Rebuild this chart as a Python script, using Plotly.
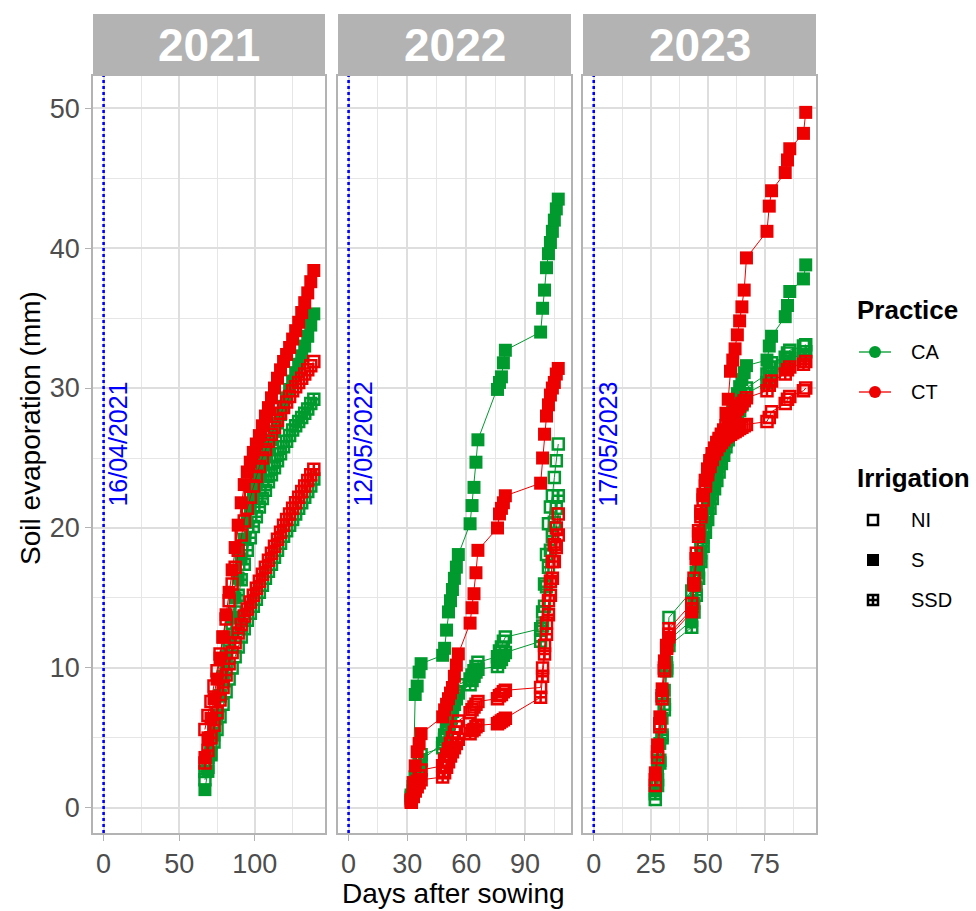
import plotly.graph_objects as go

# ---------------------------------------------------------------- data
YEARS = ["2021", "2022", "2023"]
SOWING_DATES = ["16/04/2021", "12/05/2022", "17/05/2023"]
PRACTICES = ["CA", "CT"]
IRRIGATIONS = ["NI", "S", "SSD"]

# days after sowing of each measurement
das_2021 = [67, 69, 71, 73, 75, 77, 79, 81, 83, 85, 87, 89, 91, 93, 95, 97, 99,
            101, 103, 105, 107, 109, 111, 113, 115, 117, 119, 121, 123, 125, 127,
            129, 131, 133, 135, 137, 139]
das_2022 = [32, 33, 34, 35, 36, 37, 48, 49, 50, 51, 52, 53, 54, 55, 56, 62, 63,
            64, 65, 66, 76, 77, 78, 79, 80, 98, 99, 100, 101, 102, 103, 104, 105,
            106, 107]
das_2023 = [27, 28, 29, 30, 31, 32, 33, 43, 44, 45, 46, 47, 48, 49, 50, 51, 52,
            53, 54, 55, 56, 57, 58, 59, 60, 61, 62, 63, 64, 65, 66, 67, 76, 77,
            78, 84, 85, 86, 92, 93]

# cumulative soil evaporation (mm)
ca_ni_2021 = [2.0, 2.9, 3.8, 4.7, 5.6, 6.5, 7.4, 8.3, 9.2, 10.0, 10.8, 11.5, 12.2,
              12.8, 13.4, 13.9, 14.4, 14.9, 15.4, 15.9, 16.4, 16.9, 17.4, 17.9,
              18.4, 18.9, 19.4, 19.8, 20.2, 20.6, 21.0, 21.4, 21.8, 22.2, 22.6,
              23.0, 23.5]
ca_s_2021 = [1.3, 2.6, 3.9, 5.2, 6.6, 8.0, 9.4, 10.8, 12.2, 13.6, 15.0, 16.4, 17.8,
             19.2, 20.4, 21.4, 22.3, 23.1, 23.8, 24.5, 25.1, 25.7, 26.3, 26.9,
             27.5, 28.1, 28.7, 29.3, 29.9, 30.5, 31.1, 31.7, 32.3, 33.0, 33.7,
             34.5, 35.3]
ca_ssd_2021 = [2.6, 3.6, 4.6, 5.7, 6.8, 8.0, 9.2, 10.4, 11.6, 12.8, 14.0, 15.2,
               16.3, 17.4, 18.4, 19.3, 20.1, 20.8, 21.5, 22.1, 22.7, 23.3, 23.8,
               24.3, 24.8, 25.3, 25.8, 26.2, 26.6, 27.0, 27.3, 27.6, 27.9, 28.2,
               28.5, 28.9, 29.2]
ct_ni_2021 = [5.6, 6.6, 7.6, 8.7, 9.8, 11.0, 12.2, 13.5, 14.8, 16.0, 17.2, 18.4,
              19.5, 20.5, 21.4, 22.2, 23.0, 23.7, 24.4, 25.0, 25.6, 26.2, 26.7,
              27.2, 27.7, 28.2, 28.6, 29.0, 29.4, 29.8, 30.1, 30.4, 30.7, 31.0,
              31.3, 31.6, 31.9]
ct_s_2021 = [3.6, 5.0, 6.4, 7.8, 9.2, 10.7, 12.2, 13.8, 15.4, 17.0, 18.6, 20.2,
             21.8, 23.1, 24.0, 24.7, 25.4, 26.0, 26.6, 27.3, 28.0, 28.6, 29.3,
             30.0, 30.7, 31.3, 31.9, 32.4, 32.9, 33.5, 34.1, 34.7, 35.4, 36.1,
             36.8, 37.6, 38.4]
ct_ssd_2021 = [3.2, 4.1, 5.0, 5.9, 6.8, 7.7, 8.6, 9.5, 10.3, 11.1, 11.8, 12.5, 13.1,
               13.7, 14.2, 14.7, 15.2, 15.7, 16.2, 16.7, 17.2, 17.7, 18.2, 18.7,
               19.2, 19.7, 20.2, 20.6, 21.0, 21.4, 21.8, 22.2, 22.6, 23.0, 23.4,
               23.8, 24.2]

ca_ni_2022 = [0.7, 1.2, 1.8, 2.4, 2.9, 3.4, 4.6, 5.2, 5.8, 6.3, 6.8, 7.3, 7.8, 8.3,
              8.8, 9.2, 9.5, 9.8, 10.1, 10.4, 10.8, 11.2, 11.5, 11.9, 12.2, 12.8,
              14.0, 16.0, 18.1, 20.3, 21.5, 22.3, 23.6, 24.8, 26.0]
ca_s_2022 = [0.8, 1.8, 8.1, 8.7, 9.7, 10.3, 10.9, 11.4, 12.7, 14.0, 14.8, 15.6,
             16.4, 17.2, 18.1, 20.3, 21.6, 22.9, 24.7, 26.3, 29.9, 30.4, 30.8,
             31.8, 32.7, 34.0, 35.7, 37.0, 38.6, 39.6, 40.4, 41.2, 42.0, 42.8, 43.5]
ca_ssd_2022 = [0.9, 1.5, 2.2, 2.8, 3.3, 3.8, 4.3, 4.9, 5.4, 5.9, 6.4, 6.9, 7.4, 7.8,
               8.2, 8.8, 9.1, 9.4, 9.7, 9.9, 10.1, 10.4, 10.6, 10.9, 11.1, 11.9,
               13.0, 14.4, 15.8, 17.2, 18.4, 19.4, 20.4, 21.4, 22.3]
ct_ni_2022 = [0.5, 0.9, 1.4, 1.9, 2.3, 2.7, 3.0, 3.4, 3.8, 4.2, 4.6, 5.0, 5.4, 5.8,
              6.2, 6.8, 7.0, 7.2, 7.4, 7.6, 7.8, 8.0, 8.1, 8.3, 8.4, 8.6, 10.0,
              11.6, 13.2, 14.8, 16.2, 17.6, 18.8, 20.0, 21.0]
ct_s_2022 = [0.6, 1.8, 3.0, 4.0, 4.6, 5.3, 6.5, 7.0, 7.4, 7.8, 8.2, 8.6, 9.4, 10.2,
             11.0, 13.2, 14.3, 15.3, 16.8, 18.4, 20.0, 21.0, 21.4, 21.8, 22.3,
             23.2, 25.0, 26.7, 28.0, 28.8, 29.5, 30.0, 30.4, 31.0, 31.4]
ct_ssd_2022 = [0.4, 0.8, 1.2, 1.5, 1.8, 2.0, 2.2, 2.5, 2.9, 3.3, 3.7, 4.0, 4.3, 4.6,
               4.9, 5.3, 5.5, 5.6, 5.8, 5.9, 6.0, 6.1, 6.2, 6.3, 6.4, 7.9, 9.4,
               11.0, 12.4, 13.8, 15.2, 16.4, 17.6, 18.6, 19.5]

ca_ni_2023 = [0.6, 1.6, 3.2, 5.0, 7.0, 10.0, 13.6, 15.5, 16.0, 16.8, 17.8, 18.8,
              19.8, 20.8, 21.6, 22.4, 23.0, 23.6, 24.2, 24.7, 25.2, 25.7, 26.2,
              26.7, 27.2, 27.6, 28.0, 28.4, 28.8, 29.2, 29.6, 30.0, 31.0, 31.5,
              31.8, 32.2, 32.5, 32.7, 33.0, 33.1]
ca_s_2023 = [1.2, 2.8, 4.6, 6.4, 8.4, 10.4, 12.0, 13.4, 14.6, 15.8, 17.0, 18.2, 19.3,
             20.4, 21.4, 22.3, 23.1, 23.8, 24.4, 25.0, 25.6, 26.2, 26.8, 27.4, 28.0,
             28.6, 29.1, 29.6, 30.1, 30.6, 31.1, 31.6, 32.0, 33.0, 33.7, 35.1,
             35.9, 36.9, 37.8, 38.8]
ca_ssd_2023 = [1.0, 2.0, 3.4, 5.2, 7.4, 9.8, 11.6, 12.9, 14.0, 15.2, 16.4, 17.6,
               18.7, 19.7, 20.6, 21.4, 22.1, 22.8, 23.4, 24.0, 24.6, 25.2, 25.8,
               26.3, 26.8, 27.2, 27.6, 28.0, 28.4, 28.8, 29.2, 29.6, 30.4, 30.8,
               31.1, 31.6, 31.9, 32.1, 32.4, 32.6]
ct_ni_2023 = [1.6, 3.6, 5.8, 7.8, 9.8, 11.4, 12.4, 14.2, 16.0, 17.8, 19.4, 20.8,
              22.0, 23.0, 23.8, 24.4, 24.9, 25.3, 25.6, 25.9, 26.1, 26.3, 26.5,
              26.6, 26.7, 26.8, 26.9, 27.0, 27.1, 27.2, 27.3, 27.4, 27.6, 27.9,
              28.3, 28.9, 29.2, 29.4, 29.8, 30.0]
ct_s_2023 = [2.5, 4.5, 6.5, 8.5, 10.5, 11.5, 12.2, 14.0, 15.9, 17.8, 19.6, 21.0,
             22.3, 23.4, 24.2, 24.8, 25.3, 25.7, 26.0, 26.3, 26.6, 26.9, 28.2,
             29.2, 31.2, 32.0, 32.8, 33.8, 34.8, 35.8, 37.0, 39.3, 41.2, 43.0,
             44.1, 45.4, 46.3, 47.1, 48.2, 49.7]
ct_ssd_2023 = [2.0, 4.0, 6.0, 8.0, 10.0, 11.6, 12.8, 14.6, 16.4, 18.2, 19.8, 21.2,
               22.4, 23.4, 24.2, 24.8, 25.3, 25.7, 26.1, 26.4, 26.7, 27.0, 27.3,
               27.6, 27.9, 28.1, 28.3, 28.5, 28.7, 28.9, 29.1, 29.3, 29.8, 30.2,
               30.5, 31.0, 31.3, 31.5, 31.7, 31.9]

# long table: (year, practice, irrigation, days, evaporation)
records = [
    ("2021", "CA", "NI", das_2021, ca_ni_2021),
    ("2021", "CA", "S", das_2021, ca_s_2021),
    ("2021", "CA", "SSD", das_2021, ca_ssd_2021),
    ("2021", "CT", "NI", das_2021, ct_ni_2021),
    ("2021", "CT", "S", das_2021, ct_s_2021),
    ("2021", "CT", "SSD", das_2021, ct_ssd_2021),
    ("2022", "CA", "NI", das_2022, ca_ni_2022),
    ("2022", "CA", "S", das_2022, ca_s_2022),
    ("2022", "CA", "SSD", das_2022, ca_ssd_2022),
    ("2022", "CT", "NI", das_2022, ct_ni_2022),
    ("2022", "CT", "S", das_2022, ct_s_2022),
    ("2022", "CT", "SSD", das_2022, ct_ssd_2022),
    ("2023", "CA", "NI", das_2023, ca_ni_2023),
    ("2023", "CA", "S", das_2023, ca_s_2023),
    ("2023", "CA", "SSD", das_2023, ca_ssd_2023),
    ("2023", "CT", "NI", das_2023, ct_ni_2023),
    ("2023", "CT", "S", das_2023, ct_s_2023),
    ("2023", "CT", "SSD", das_2023, ct_ssd_2023),
]

# ---------------------------------------------------------------- styling
W, H = 976, 911
FONT = "Liberation Sans, Arial, sans-serif"
TICK_GREY = "#4D4D4D"
GRID = "#DEDEDE"
BORDER = "#B3B3B3"
STRIP = "#B3B3B3"
PRACTICE_COLOR = {"CA": "#009A2E", "CT": "#EE0000"}
IRR_SYMBOL = {"NI": "square-open", "S": "square", "SSD": "square-cross-open"}

PANEL_PX = [(93, 325), (338, 571), (583, 816)]   # left/right edges of each panel
PLOT_TOP, PLOT_BOTTOM, STRIP_TOP = 76, 833, 14
X_RANGES = [[-7.0, 146.4], [-5.4, 113.5], [-4.7, 97.5]]
X_MAJOR = [[0, 50, 100], [0, 30, 60, 90], [0, 25, 50, 75]]
X_MINOR = [[25, 75, 125], [15, 45, 75, 105], [12.5, 37.5, 62.5, 87.5]]
Y_RANGE = [-1.8, 52.3]
LEGEND_LEFT = 840
TICK_SIZE, TITLE_SIZE = 27, 28


def fx(p):
    return p / W


def fy(p):
    return 1 - p / H


fig = go.Figure()

suffix = ["", "2", "3"]
for year, practice, irr, days, evap in sorted(
        records, key=lambda r: (r[0], PRACTICES.index(r[1]), IRRIGATIONS.index(r[2]))):
    i = YEARS.index(year)
    col = PRACTICE_COLOR[practice]
    open_sym = irr != "S"
    fig.add_trace(go.Scatter(
        x=days, y=evap, mode="lines+markers",
        xaxis="x" + suffix[i], yaxis="y" + suffix[i],
        line=dict(color=col, width=1),
        marker=dict(symbol=IRR_SYMBOL[irr], size=11 if open_sym else 13,
                    color=col,
                    line=dict(color=col, width=2.5 if open_sym else 0)),
        name=f"{practice} {irr}", showlegend=False,
        hovertemplate=f"{year} {practice} {irr}<br>%{{x}} DAS: %{{y}} mm<extra></extra>",
    ))

layout = dict(
    width=W, height=H,
    margin=dict(l=0, r=0, t=0, b=0),
    paper_bgcolor="white", plot_bgcolor="rgba(0,0,0,0)",
    font=dict(family=FONT, color=TICK_GREY),
    showlegend=False,
)

shapes, annotations = [], []
for i in range(3):
    xa = "xaxis" + suffix[i]
    ya = "yaxis" + suffix[i]
    xr = "x" + suffix[i]
    yr = "y" + suffix[i]
    layout[xa] = dict(
        domain=[fx(PANEL_PX[i][0]), fx(PANEL_PX[i][1])], anchor=yr,
        range=X_RANGES[i], tickmode="array", tickvals=X_MAJOR[i],
        showgrid=True, gridcolor=GRID, gridwidth=1.6,
        minor=dict(tickmode="array", tickvals=X_MINOR[i], showgrid=True,
                   gridcolor="#E6E6E6", gridwidth=1.1, ticks=""),
        zeroline=False, showline=True, mirror=True, linecolor=BORDER, linewidth=1.6,
        ticks="outside", ticklen=6, tickwidth=1.4, tickcolor=BORDER,
        tickfont=dict(size=TICK_SIZE, color=TICK_GREY, family=FONT),
    )
    layout[ya] = dict(
        domain=[fy(PLOT_BOTTOM), fy(PLOT_TOP)], anchor=xr,
        range=Y_RANGE, tickmode="array", tickvals=[0, 10, 20, 30, 40, 50],
        showgrid=True, gridcolor=GRID, gridwidth=1.6,
        minor=dict(tickmode="array", tickvals=[5, 15, 25, 35, 45], showgrid=True,
                   gridcolor="#E6E6E6", gridwidth=1.1, ticks=""),
        zeroline=False, showline=True, mirror=True, linecolor=BORDER, linewidth=1.6,
        ticks="outside" if i == 0 else "", ticklen=6, tickwidth=1.4, tickcolor=BORDER,
        showticklabels=(i == 0),
        tickfont=dict(size=TICK_SIZE, color=TICK_GREY, family=FONT),
    )
    if i > 0:
        layout[ya]["matches"] = "y"

    # strip with the year
    shapes.append(dict(type="rect", xref=xr + " domain", yref="paper",
                       x0=0, x1=1, y0=fy(PLOT_TOP), y1=fy(STRIP_TOP),
                       fillcolor=STRIP, line=dict(width=0), layer="below"))
    annotations.append(dict(xref=xr + " domain", yref="paper", x=0.5,
                            y=(fy(PLOT_TOP) + fy(STRIP_TOP)) / 2,
                            text="<b>" + YEARS[i] + "</b>", showarrow=False,
                            font=dict(size=46, color="white", family=FONT),
                            xanchor="center", yanchor="middle"))
    # sowing day marker
    shapes.append(dict(type="line", xref=xr, yref=yr + " domain",
                       x0=0, x1=0, y0=0, y1=1,
                       line=dict(color="#0000FF", width=2.6, dash="dot")))
    annotations.append(dict(xref=xr, yref=yr, x=0, y=26, xshift=14,
                            text=SOWING_DATES[i], textangle=-90, showarrow=False,
                            font=dict(size=25, color="#0000FF", family=FONT),
                            xanchor="center", yanchor="middle"))

# axis titles
annotations.append(dict(xref="paper", yref="paper", x=fx(30), y=fy(428),
                        text="Soil evaporation (mm)", textangle=-90, showarrow=False,
                        font=dict(size=TITLE_SIZE, color="black", family=FONT),
                        xanchor="center", yanchor="middle"))
annotations.append(dict(xref="paper", yref="paper", x=fx(453), y=fy(893),
                        text="Days after sowing", showarrow=False,
                        font=dict(size=TITLE_SIZE, color="black", family=FONT),
                        xanchor="center", yanchor="middle"))

# ---------------------------------------------------------------- legend
# an invisible pixel-unit axis pair to the right of the panels holds the keys
layout["xaxis4"] = dict(domain=[fx(LEGEND_LEFT), 1], range=[LEGEND_LEFT, W],
                        visible=False, anchor="y4", fixedrange=True)
layout["yaxis4"] = dict(domain=[0, 1], range=[H, 0], visible=False, anchor="x4",
                        fixedrange=True)

LEG_TITLE_X, LEG_KEY_X, LEG_LABEL_X = 855, 875, 909
practice_rows = [352, 392]
irrigation_rows = [520, 560, 600]

for practice, yrow in zip(PRACTICES, practice_rows):
    col = PRACTICE_COLOR[practice]
    fig.add_trace(go.Scatter(x=[859, 891], y=[yrow, yrow], xaxis="x4", yaxis="y4",
                             mode="lines", line=dict(color=col, width=1.3),
                             hoverinfo="skip", showlegend=False))
    fig.add_trace(go.Scatter(x=[LEG_KEY_X], y=[yrow], xaxis="x4", yaxis="y4",
                             mode="markers", marker=dict(symbol="circle", size=12, color=col),
                             hoverinfo="skip", showlegend=False))
    annotations.append(dict(xref="x4", yref="y4", x=LEG_LABEL_X, y=yrow, text=practice,
                            showarrow=False, xanchor="left", yanchor="middle",
                            font=dict(size=20, color="black", family=FONT)))

for irr, yrow in zip(IRRIGATIONS, irrigation_rows):
    open_sym = irr != "S"
    fig.add_trace(go.Scatter(x=[LEG_KEY_X - 2], y=[yrow], xaxis="x4", yaxis="y4",
                             mode="markers",
                             marker=dict(symbol=IRR_SYMBOL[irr], size=10 if open_sym else 12,
                                         color="black",
                                         line=dict(color="black", width=2.5 if open_sym else 0)),
                             hoverinfo="skip", showlegend=False))
    annotations.append(dict(xref="x4", yref="y4", x=LEG_LABEL_X, y=yrow, text=irr,
                            showarrow=False, xanchor="left", yanchor="middle",
                            font=dict(size=20, color="black", family=FONT)))

for title, yrow in (("Practice", 310), ("Irrigation", 478)):
    annotations.append(dict(xref="x4", yref="y4", x=LEG_TITLE_X, y=yrow,
                            text="<b>" + title + "</b>", showarrow=False,
                            xanchor="left", yanchor="middle",
                            font=dict(size=26, color="black", family=FONT)))

layout["shapes"] = shapes
layout["annotations"] = annotations
fig.update_layout(**layout)

fig.write_html("out.html")
